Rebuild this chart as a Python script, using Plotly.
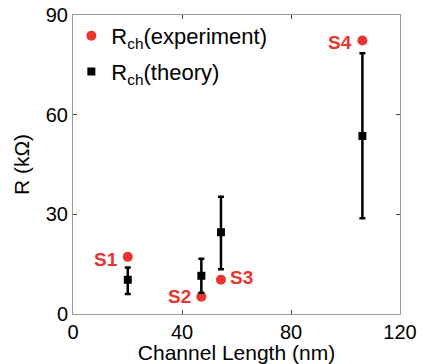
import plotly.graph_objects as go

samples = ["S1", "S2", "S3", "S4"]
length_nm = [20.1, 47.1, 54.3, 106.2]
r_exp = [17.2, 5.2, 10.3, 82.3]
r_theory = [10.3, 11.5, 24.6, 53.6]
r_theory_hi = [14.0, 16.6, 35.3, 78.5]
r_theory_lo = [6.0, 6.4, 13.5, 28.8]

x_ticks = [0, 40, 80, 120]
y_ticks = [0, 30, 60, 90]

RED = "#e8352f"
font = "Liberation Sans, Arial, sans-serif"

err_plus = [h - v for h, v in zip(r_theory_hi, r_theory)]
err_minus = [v - l for v, l in zip(r_theory, r_theory_lo)]

fig = go.Figure()
fig.add_trace(go.Scatter(
    x=length_nm, y=r_exp, mode="markers",
    name="R<sub>ch</sub>(experiment)", legendgroup="a",
    marker=dict(color=RED, size=10, symbol="circle"),
))
fig.add_trace(go.Scatter(
    x=length_nm, y=r_theory, mode="markers",
    name="R<sub>ch</sub>(theory)", legendgroup="b",
    marker=dict(color="black", size=8, symbol="square"),
    error_y=dict(type="data", symmetric=False, array=err_plus, arrayminus=err_minus,
                 color="black", thickness=2.5, width=3),
))

label_offsets = [(-22, -3), (-22, 0), (21, 2), (-22, -2)]
for s, x, y, (ax, ay) in zip(samples, length_nm, r_exp, label_offsets):
    fig.add_annotation(x=x, y=y, text="<b>%s</b>" % s, showarrow=False,
                       xshift=ax, yshift=ay,
                       font=dict(color=RED, size=19, family=font))

fig.update_layout(
    width=423, height=364,
    margin=dict(l=73, r=23, t=15, b=50, autoexpand=False),
    paper_bgcolor="white", plot_bgcolor="white",
    font=dict(family=font, size=20, color="black"),
    showlegend=True,
    legend=dict(x=-0.005, y=1.0, xanchor="left", yanchor="top",
                bgcolor="rgba(0,0,0,0)", font=dict(size=22),
                itemsizing="trace", tracegroupgap=4, itemwidth=30),
    xaxis=dict(range=[0, 120], tickvals=x_ticks, ticks="inside", ticklen=4,
               showline=True, linecolor="#999", linewidth=1, mirror="ticks",
               showgrid=False, zeroline=False, automargin=False,
               title=dict(text="Channel Length (nm)", standoff=0, font=dict(size=21)),
               tickfont=dict(size=20)),
    yaxis=dict(range=[0, 90], tickvals=y_ticks, ticks="inside", ticklen=4,
               showline=True, linecolor="#999", linewidth=1, mirror="ticks",
               showgrid=False, zeroline=False, automargin=False,
               title=dict(text="R (kΩ)", standoff=10, font=dict(size=21)),
               tickfont=dict(size=20)),
)

fig.write_html("out.html", config={"displayModeBar": False},
               post_script="document.body.style.margin='0';document.body.style.overflow='hidden';")
